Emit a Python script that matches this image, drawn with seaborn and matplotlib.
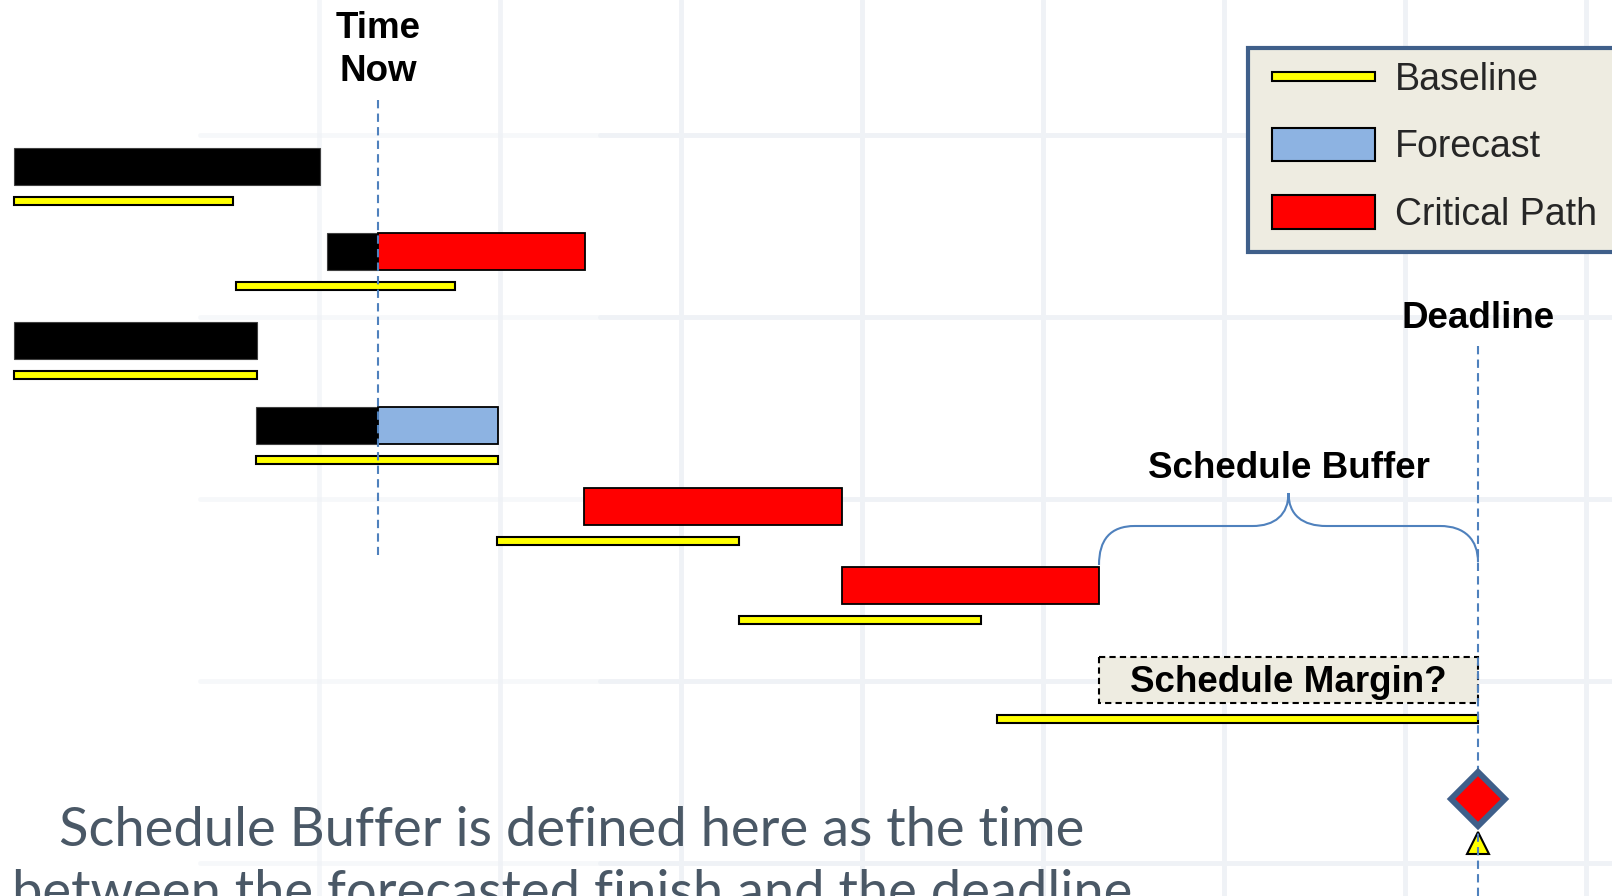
import matplotlib
matplotlib.use("Agg")
import matplotlib.pyplot as plt
import seaborn as sns
from matplotlib.patches import Patch, Rectangle, PathPatch
from matplotlib.path import Path
from matplotlib.legend_handler import HandlerPatch

# timeline values (same scale as the slide, day 0 at the left edge)
time_now = 378
deadline = 1478

# actual progress (black bars)
done_task = [0, 1, 2, 3]
done_start = [14, 327, 14, 256]
done_end = [320, 378, 257, 378]

# remaining work from time now
remain_task = [1, 3, 4, 5]
remain_start = [378, 378, 584, 842]
remain_end = [585, 498, 842, 1099]
remain_kind = ["Critical Path", "Forecast", "Critical Path", "Critical Path"]

# baseline plan, last row is the project baseline finish
base_task = [0, 1, 2, 3, 4, 5, 6]
base_start = [14, 236, 14, 256, 497, 739, 997]
base_end = [233, 455, 257, 498, 739, 981, 1478]

legend_labels = ["Baseline", "Forecast", "Critical Path"]
note_lines = ["Schedule Buffer is defined here as the time",
              "between the forecasted finish and the deadline"]

colors = {"Baseline": "#FFFF00", "Forecast": "#8DB3E2", "Critical Path": "#FF0000"}
blue_line = "#4F81BD"
frame_blue = "#3F5F8A"
panel = "#EEECE1"

# row layout (vertical position of each task row)
base_y = [201, 286, 375, 460, 541, 620, 719]
bar_y = [y - 34 for y in base_y[:6]]

sns.set_theme(style="white")
plt.rcParams["font.family"] = ["Liberation Sans", "DejaVu Sans"]

fig = plt.figure(figsize=(16.12, 8.96), dpi=100)
ax = fig.add_axes([0, 0, 1, 1])
ax.set_xlim(0, 1612)
ax.set_ylim(896, 0)
ax.axis("off")

# faint background grid from the slide, fading out to the left
grid_col = "#EFF2F6"
for gx in range(319, 1612, 181):
    ax.axvline(gx, color=grid_col, lw=3.5, alpha=min(1, 0.3 + gx / 900), zorder=0)
for gy in range(135, 896, 182):
    ax.plot([200, 600], [gy, gy], color=grid_col, lw=3.5, alpha=0.5, zorder=0)
    ax.plot([600, 1612], [gy, gy], color=grid_col, lw=3.5, zorder=0)

# baselines
ax.barh([base_y[t] for t in base_task],
        [e - s for s, e in zip(base_start, base_end)], left=base_start,
        height=8.5, color=colors["Baseline"], edgecolor="black", lw=1.5, zorder=3)

# actuals
ax.barh([bar_y[t] for t in done_task],
        [e - s for s, e in zip(done_start, done_end)], left=done_start,
        height=37, color="black", edgecolor="#404040", lw=0.8, zorder=3)

# remaining work
ax.barh([bar_y[t] for t in remain_task],
        [e - s for s, e in zip(remain_start, remain_end)], left=remain_start,
        height=37, color=[colors[k] for k in remain_kind], edgecolor="black",
        lw=1.3, zorder=3)

# time now and deadline lines
ax.plot([time_now, time_now], [100, 555], color=blue_line, lw=1.5,
        ls=(0, (4, 2.5)), zorder=5)
ax.plot([deadline, deadline], [346, 896], color=blue_line, lw=1.5,
        ls=(0, (4, 2.5)), zorder=5)

lbl = dict(fontsize=26.5, fontweight="bold", ha="center", va="center", color="black")
ax.text(time_now, 50, "Time\nNow", linespacing=1.33, **lbl)
ax.text(deadline, 319, "Deadline", **lbl)

# schedule buffer brace between forecast finish and deadline
finish = max(remain_end)
mid = (finish + deadline) / 2
verts = [(finish, 565), (finish, 540), (finish + 11, 526), (finish + 36, 526),
         (mid - 36, 526),
         (mid - 14, 526), (mid, 515), (mid, 493),
         (mid, 515), (mid + 14, 526), (mid + 38, 526),
         (deadline - 38, 526),
         (deadline - 13, 526), (deadline, 540), (deadline, 562)]
codes = [Path.MOVETO, Path.CURVE4, Path.CURVE4, Path.CURVE4, Path.LINETO,
         Path.CURVE4, Path.CURVE4, Path.CURVE4,
         Path.CURVE4, Path.CURVE4, Path.CURVE4, Path.LINETO,
         Path.CURVE4, Path.CURVE4, Path.CURVE4]
ax.add_patch(PathPatch(Path(verts, codes), fill=False, edgecolor=blue_line,
                       lw=1.5, zorder=4))
ax.text(mid, 469, "Schedule Buffer", **lbl)

# schedule margin box
ax.add_patch(Rectangle((finish, 657), deadline - finish, 46, facecolor=panel,
                       edgecolor="black", lw=1.5, ls=(0, (3, 2)), zorder=2))
ax.text(mid, 683, "Schedule Margin?", **lbl)

# deadline milestone
ax.plot([deadline], [843], marker="^", ms=16, color="#FFFF00",
        markeredgecolor="black", markeredgewidth=1.5, zorder=4)
ax.plot([deadline], [799], marker="D", ms=27.5, color="#FF0000",
        markeredgecolor=frame_blue, markeredgewidth=4.3, zorder=6)


def thin_patch(legend, orig_handle, xdescent, ydescent, width, height, fontsize):
    return Rectangle((-xdescent, -ydescent + height * 0.37), width, height * 0.26)


# legend panel, runs off the right edge of the slide
ax.add_patch(Rectangle((1248, 48), 420, 204, facecolor=panel, edgecolor=frame_blue,
                       lw=3, zorder=7, clip_on=False))
handles = [Patch(facecolor=colors[k], edgecolor="black", lw=1.5) for k in legend_labels]
leg = ax.legend(handles, legend_labels, loc="upper left",
                bbox_to_anchor=(1272 / 1612, 1 - 60 / 896), bbox_transform=fig.transFigure,
                borderaxespad=0, borderpad=0, fontsize=27, handlelength=2.75,
                handleheight=1.0, labelspacing=0.8, handletextpad=0.53,
                frameon=False,
                handler_map={handles[0]: HandlerPatch(patch_func=thin_patch)})
leg.set_zorder(8)

# note at the bottom
notes = []
for i, line in enumerate(note_lines):
    notes.append(ax.text(572, 846 + 63 * i, line, ha="center", va="baseline",
                         fontsize=40, family=["Lato", "DejaVu Sans"], color="#4A5866"))
fig.canvas.draw()
scale = 1021 / notes[0].get_window_extent().width
for t in notes:
    t.set_fontsize(40 * scale)

fig.savefig("out.png", dpi=100)
